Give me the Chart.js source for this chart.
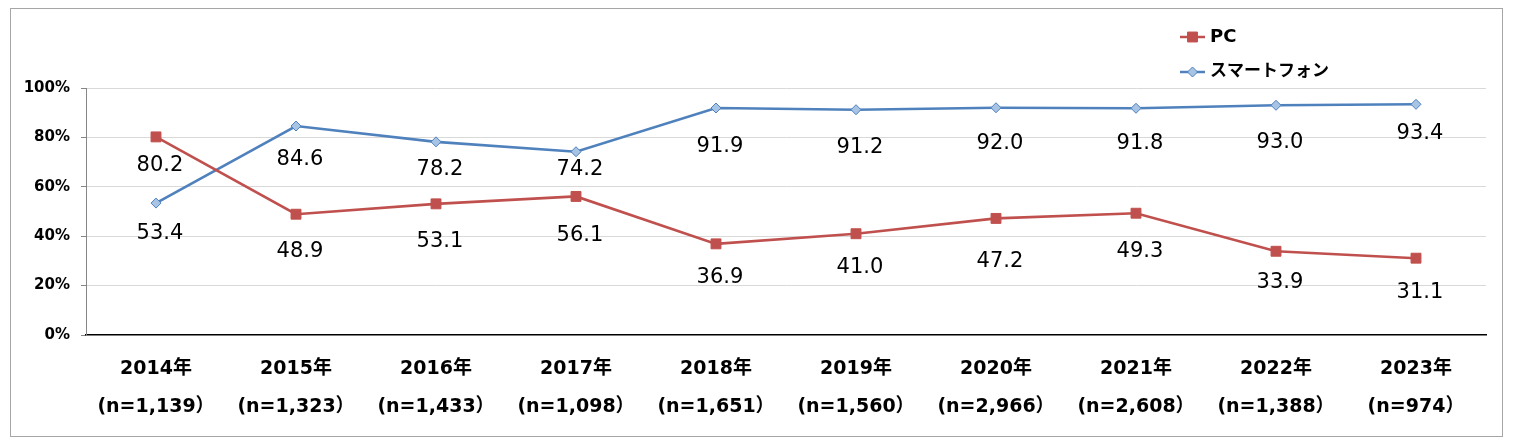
<!DOCTYPE html>
<html>
<head>
<meta charset="utf-8">
<script src="https://cdn.jsdelivr.net/npm/chart.js@4/dist/chart.umd.min.js"></script>
<style>
  html, body { margin: 0; padding: 0; background: #fff; }
  #wrap { width: 1514px; height: 445px; }
</style>
</head>
<body>
<div id="wrap"><canvas id="usage" width="1514" height="445"></canvas></div>
<script>
// survey years and sample sizes
const years = ['2014年', '2015年', '2016年', '2017年', '2018年', '2019年', '2020年', '2021年', '2022年', '2023年'];
const sampleSizes = ['1,139', '1,323', '1,433', '1,098', '1,651', '1,560', '2,966', '2,608', '1,388', '974'];

// share of respondents (%)
const pcValues = [80.2, 48.9, 53.1, 56.1, 36.9, 41.0, 47.2, 49.3, 33.9, 31.1];
const phoneValues = [53.4, 84.6, 78.2, 74.2, 91.9, 91.2, 92.0, 91.8, 93.0, 93.4];

const yTicks = [0, 20, 40, 60, 80, 100];

const FONT = '"DejaVu Sans", "Noto Sans CJK JP", sans-serif';

// value labels under each point, offsets tuned by hand like the original sheet
const valueLabels = {
  id: 'valueLabels',
  afterDatasetsDraw(chart) {
    const ctx = chart.ctx;
    ctx.save();
    ctx.font = '21px ' + FONT;
    ctx.fillStyle = '#000';
    ctx.textAlign = 'center';
    ctx.textBaseline = 'middle';
    chart.data.datasets.forEach((ds, i) => {
      const meta = chart.getDatasetMeta(i);
      meta.data.forEach((pt, j) => {
        const dy = ds.labelDy ? ds.labelDy[j] : 30;
        ctx.fillText(ds.data[j].toFixed(1), pt.x + 4, pt.y + dy);
      });
    });
    ctx.restore();
  }
};

// stacked legend in the top right corner
const sideLegend = {
  id: 'sideLegend',
  afterDraw(chart) {
    const ctx = chart.ctx;
    const x0 = 1180, x1 = 1205;
    ctx.save();
    chart.data.datasets.forEach((ds, i) => {
      const y = 37 + i * 35;
      ctx.strokeStyle = ds.borderColor;
      ctx.lineWidth = 2.5;
      ctx.beginPath();
      ctx.moveTo(x0, y);
      ctx.lineTo(x1, y);
      ctx.stroke();
      ctx.fillStyle = ds.pointBackgroundColor;
      ctx.strokeStyle = ds.pointBorderColor;
      ctx.lineWidth = 1;
      Chart.helpers.drawPoint(ctx, { pointStyle: ds.pointStyle, radius: ds.pointRadius, borderWidth: 1 }, (x0 + x1) / 2, y);
      ctx.font = (i === 0 ? 'bold 18px ' : 'bold 17px ') + FONT;
      ctx.fillStyle = '#000';
      ctx.textAlign = 'left';
      ctx.textBaseline = 'middle';
      ctx.fillText(ds.label, x1 + 5, y);
    });
    ctx.restore();
  }
};

// white background + thin frame
const frame = {
  id: 'frame',
  beforeDraw(chart) {
    const ctx = chart.ctx;
    ctx.save();
    ctx.fillStyle = '#fff';
    ctx.fillRect(0, 0, chart.width, chart.height);
    ctx.strokeStyle = '#a6a6a6';
    ctx.lineWidth = 1;
    ctx.strokeRect(10.5, 8.5, 1492, 428);
    ctx.restore();
  }
};

new Chart(document.getElementById('usage'), {
  type: 'line',
  data: {
    labels: years.map((y, i) => [y, '(n=' + sampleSizes[i] + '）']),
    datasets: [
      {
        label: 'PC',
        data: pcValues,
        borderColor: '#c0504d',
        backgroundColor: '#c0504d',
        pointBackgroundColor: '#c0504d',
        pointBorderColor: '#c0504d',
        pointStyle: 'rect',
        pointRadius: 7,
        pointBorderWidth: 1,
        borderWidth: 2.6,
        tension: 0,
        labelDy: [29, 37, 38, 39, 34, 34, 43, 38, 31, 34],
      },
      {
        label: 'スマートフォン',
        data: phoneValues,
        borderColor: '#4f81bd',
        backgroundColor: '#4f81bd',
        pointBackgroundColor: '#a7c4e5',
        pointBorderColor: '#4f81bd',
        pointStyle: 'rectRot',
        pointRadius: 5,
        pointBorderWidth: 1,
        borderWidth: 2.6,
        tension: 0,
        labelDy: [30, 34, 28, 18, 39, 38, 36, 35, 37, 29],
      },
    ],
  },
  options: {
    responsive: false,
    animation: false,
    layout: { padding: { left: 10, right: 28, top: 88, bottom: 0 } },
    plugins: {
      legend: { display: false },
      tooltip: { enabled: false },
    },
    scales: {
      x: {
        offset: true,
        grid: { display: false },
        border: { display: true, color: '#000', width: 1.5 },
        ticks: {
          color: '#000',
          font: { family: FONT, size: 19, weight: 'bold', lineHeight: 2.0 },
          padding: 7,
          maxRotation: 0,
          autoSkip: false,
        },
        afterFit(scale) { scale.height = 110; },
      },
      y: {
        min: 0,
        max: 100,
        afterBuildTicks(scale) { scale.ticks = yTicks.map(v => ({ value: v })); },
        grid: {
          color: (c) => (c.tick && c.tick.value === 0 ? 'rgba(0,0,0,0)' : '#d9d9d9'),
          tickColor: '#868686',
          tickLength: 5,
        },
        border: { display: true, color: '#868686', width: 1 },
        ticks: {
          color: '#000',
          font: { family: FONT, size: 15, weight: 'bold' },
          padding: 11,
          callback: (v) => v + '%',
        },
        afterFit(scale) { scale.width = 76; },
      },
    },
  },
  plugins: [frame, valueLabels, sideLegend],
});
</script>
</body>
</html>
